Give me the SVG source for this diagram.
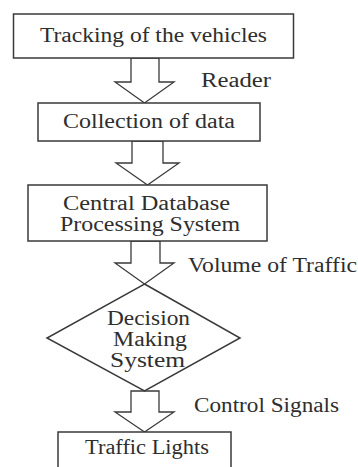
<svg xmlns="http://www.w3.org/2000/svg" width="358" height="467" viewBox="0 0 358 467">
<style>
.box{fill:#fff;stroke:#3a3a3a;stroke-width:1.5}
.arr{fill:#fff;stroke:#3a3a3a;stroke-width:1.3;stroke-linejoin:miter}
text{font-family:"Liberation Serif","Times New Roman",serif;font-size:20px;fill:#2e2e2e}
</style>
<rect width="358" height="467" fill="#fff"/>
<g id="connectors">
<polygon class="arr" points="131,58 159,58 159,82 174,82 144.5,103 115,82 131,82"/>
<polygon class="arr" points="132,141 163,141 163,163 179,163 147.5,185 116,163 132,163"/>
<polygon class="arr" points="131,241 160,241 160,263 174,263 144.5,284 115,263 131,263"/>
<polygon class="arr" points="131,391 159,391 159,412 174,412 144.5,432 115,412 131,412"/>
<text x="201" y="87" textLength="70" lengthAdjust="spacingAndGlyphs">Reader</text>
<text x="188" y="272" textLength="169" lengthAdjust="spacingAndGlyphs">Volume of Traffic</text>
<text x="194" y="412" textLength="145" lengthAdjust="spacingAndGlyphs">Control Signals</text>
</g>
<g id="n1">
<rect class="box" x="13.5" y="14" width="280" height="44"/>
<text x="40" y="42" textLength="227" lengthAdjust="spacingAndGlyphs">Tracking of the vehicles</text>
</g>
<g id="n2">
<rect class="box" x="38" y="103" width="222" height="38"/>
<text x="63" y="128" textLength="172" lengthAdjust="spacingAndGlyphs">Collection of data</text>
</g>
<g id="n3">
<rect class="box" x="28" y="185" width="239" height="56"/>
<text x="63" y="210" textLength="167" lengthAdjust="spacingAndGlyphs">Central Database</text>
<text x="60" y="231" textLength="180" lengthAdjust="spacingAndGlyphs">Processing System</text>
</g>
<g id="n4">
<polygon class="box" points="144.5,284 240,338 144.5,391 47,338"/>
<text x="107" y="325" textLength="83" lengthAdjust="spacingAndGlyphs">Decision</text>
<text x="113" y="346" textLength="74" lengthAdjust="spacingAndGlyphs">Making</text>
<text x="110" y="367" textLength="75" lengthAdjust="spacingAndGlyphs">System</text>
</g>
<g id="n5">
<rect class="box" x="58" y="432" width="173" height="45"/>
<text x="85" y="454" textLength="124" lengthAdjust="spacingAndGlyphs">Traffic Lights</text>
</g>
</svg>
